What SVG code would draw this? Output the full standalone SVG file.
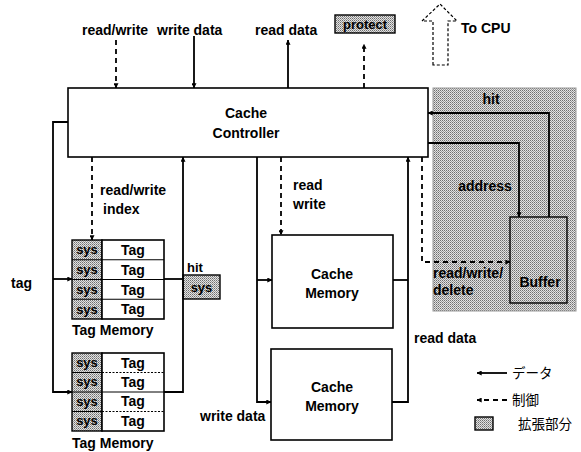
<svg xmlns="http://www.w3.org/2000/svg" width="581" height="452" viewBox="0 0 581 452">
<defs>
<pattern id="dots" width="2" height="2" patternUnits="userSpaceOnUse">
<rect width="2" height="2" fill="#e2e2e2"/>
<rect width="1" height="1" fill="#6e6e6e"/>
<rect x="1" y="1" width="1" height="1" fill="#9a9a9a"/>
</pattern>
<marker id="ah" viewBox="0 0 8 8" refX="7.5" refY="4" markerWidth="5" markerHeight="5" orient="auto" markerUnits="userSpaceOnUse">
<path d="M0,0 L8,4 L0,8 z" fill="#000"/>
</marker>
</defs>
<style>
text{font-family:"Liberation Sans",Arial,sans-serif;font-weight:bold;font-size:14px;fill:#000}
.c{text-anchor:middle}
.sm{font-size:13px}
.jp{font-family:"Liberation Sans","Noto Sans CJK JP",sans-serif;font-weight:normal;font-size:13.5px}
.box{fill:#fff;stroke:#000;stroke-width:1.6}
.shade{fill:url(#dots);stroke:#000;stroke-width:1.4}
.ln{fill:none;stroke:#000;stroke-width:1.8}
.ds{fill:none;stroke:#000;stroke-width:1.8;stroke-dasharray:5,4}
.thin{fill:none;stroke:#000;stroke-width:1}
.dot{stroke:#000;stroke-width:1;stroke-dasharray:2,1.5}
</style>

<g id="extension-area">
<rect x="433" y="88" width="143" height="223" fill="url(#dots)" stroke="#999" stroke-width="1"/>
</g>

<g id="labels-top">
<text x="82" y="35">read/write</text>
<text x="157" y="35">write data</text>
<text x="255" y="35">read data</text>
</g>

<g id="protect">
<rect x="335" y="15" width="60" height="18" class="shade"/>
<text x="365" y="29" class="c sm">protect</text>
</g>

<g id="to-cpu">
<path d="M433,65 V21 H422 L440,4 L457,21 H448 V65 Z" fill="#fff" stroke="#000" stroke-width="1.2" stroke-dasharray="3,2"/>
<text x="461" y="33">To CPU</text>
</g>

<g id="cache-controller">
<rect x="68" y="88" width="360" height="69" class="box"/>
<text x="246" y="118" class="c">Cache</text>
<text x="246" y="138" class="c">Controller</text>
</g>

<g id="tag-memory-1">
<rect x="72" y="240" width="30" height="79" class="shade"/>
<rect x="102" y="240" width="62" height="79" class="box"/>
<line x1="72" y1="259.75" x2="164" y2="259.75" class="thin"/>
<line x1="72" y1="279.5" x2="164" y2="279.5" class="thin"/>
<line x1="72" y1="299.25" x2="164" y2="299.25" class="thin"/>
<text x="87" y="254" class="c sm">sys</text>
<text x="87" y="274" class="c sm">sys</text>
<text x="87" y="294" class="c sm">sys</text>
<text x="87" y="314" class="c sm">sys</text>
<text x="133" y="255" class="c">Tag</text>
<text x="133" y="275" class="c">Tag</text>
<text x="133" y="295" class="c">Tag</text>
<text x="133" y="314" class="c">Tag</text>
<text x="72" y="335">Tag Memory</text>
</g>

<g id="tag-memory-2">
<rect x="72" y="353" width="30" height="78" class="shade"/>
<rect x="102" y="353" width="62" height="78" class="box"/>
<line x1="72" y1="372.5" x2="102" y2="372.5" class="thin"/>
<line x1="72" y1="392" x2="102" y2="392" class="thin"/>
<line x1="72" y1="411.5" x2="102" y2="411.5" class="thin"/>
<line x1="102" y1="372.5" x2="164" y2="372.5" class="dot"/>
<line x1="102" y1="392" x2="164" y2="392" class="thin"/>
<line x1="102" y1="411.5" x2="164" y2="411.5" class="dot"/>
<text x="87" y="367" class="c sm">sys</text>
<text x="87" y="386" class="c sm">sys</text>
<text x="87" y="406" class="c sm">sys</text>
<text x="87" y="425" class="c sm">sys</text>
<text x="133" y="368" class="c">Tag</text>
<text x="133" y="387" class="c">Tag</text>
<text x="133" y="406" class="c">Tag</text>
<text x="133" y="426" class="c">Tag</text>
<text x="72" y="448">Tag Memory</text>
</g>

<g id="hit-sys">
<rect x="183" y="275" width="37" height="24" class="shade"/>
<text x="201.5" y="292" class="c sm">sys</text>
<text x="187" y="272" class="sm">hit</text>
</g>

<g id="cache-memory-1">
<rect x="272" y="235" width="121" height="93" class="box"/>
<text x="332" y="279" class="c">Cache</text>
<text x="332" y="298" class="c">Memory</text>
</g>

<g id="cache-memory-2">
<rect x="271" y="349" width="121" height="91" class="box"/>
<text x="332" y="392" class="c">Cache</text>
<text x="332" y="411" class="c">Memory</text>
</g>

<g id="buffer">
<rect x="510" y="217" width="57" height="86" class="shade"/>
<text x="540" y="287" class="c">Buffer</text>
</g>

<g id="connectors">
<line x1="116" y1="40" x2="116" y2="88" class="ds" marker-end="url(#ah)"/>
<line x1="194" y1="36" x2="194" y2="88" class="ln" marker-end="url(#ah)"/>
<line x1="288" y1="88" x2="288" y2="40" class="ln" marker-end="url(#ah)"/>
<line x1="364" y1="88" x2="364" y2="44" class="ds" marker-end="url(#ah)"/>
<path d="M68,122 H53 V392 H72" class="ln" marker-end="url(#ah)"/>
<path d="M53,279 H72" class="ln" marker-end="url(#ah)"/>
<line x1="92" y1="157" x2="92" y2="240" class="ds" marker-end="url(#ah)"/>
<path d="M164,392 H183 V157" class="ln" marker-end="url(#ah)"/>
<path d="M164,279 H183" class="ln"/>
<path d="M257,157 V402 H271" class="ln" marker-end="url(#ah)"/>
<path d="M257,280 H272" class="ln" marker-end="url(#ah)"/>
<line x1="281" y1="157" x2="281" y2="235" class="ds" marker-end="url(#ah)"/>
<path d="M392,402 H408 V157" class="ln" marker-end="url(#ah)"/>
<path d="M393,280 H408" class="ln"/>
<path d="M549,217 V113 H428" class="ln" marker-end="url(#ah)"/>
<path d="M428,143 H519 V217" class="ln" marker-end="url(#ah)"/>
<path d="M422,157 V262 H510" class="ds" marker-end="url(#ah)"/>
</g>

<g id="connector-labels">
<text x="100" y="195">read/write</text>
<text x="103" y="214">index</text>
<text x="11" y="288">tag</text>
<text x="293" y="190">read</text>
<text x="293" y="209">write</text>
<text x="200" y="421">write data</text>
<text x="414" y="343">read data</text>
<text x="491" y="104" class="c">hit</text>
<text x="485" y="191" class="c">address</text>
<text x="433" y="278">read/write/</text>
<text x="433" y="295">delete</text>
</g>

<g id="legend">
<line x1="507" y1="373" x2="477" y2="373" class="ln" marker-end="url(#ah)"/>
<text x="512" y="378" class="jp">データ</text>
<line x1="507" y1="400" x2="477" y2="400" class="ds" marker-end="url(#ah)"/>
<text x="512" y="405" class="jp">制御</text>
<rect x="475" y="417" width="18" height="13" class="shade"/>
<text x="518" y="429" class="jp">拡張部分</text>
</g>
</svg>
